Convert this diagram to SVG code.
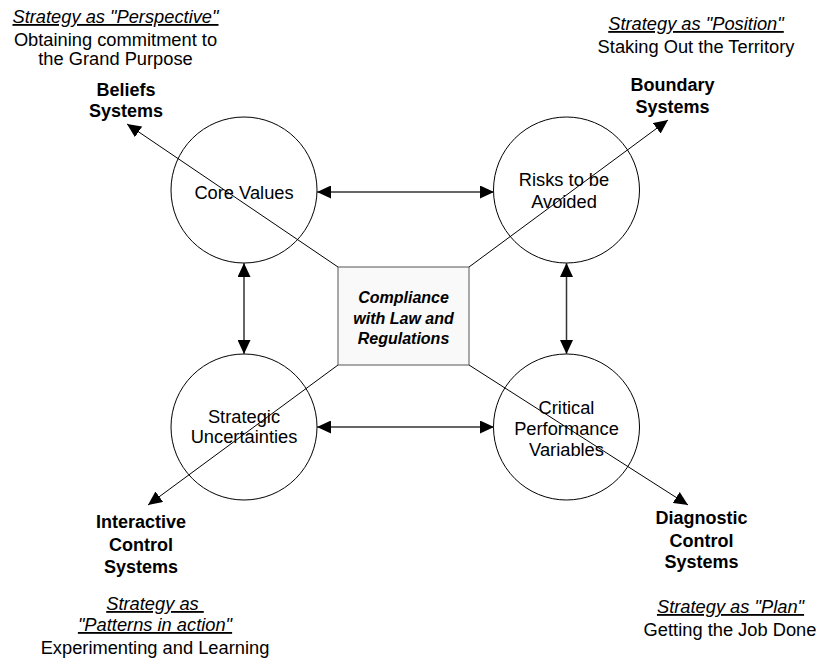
<svg xmlns="http://www.w3.org/2000/svg" width="822" height="659" viewBox="0 0 822 659">
<style>
text{font-family:"Liberation Sans",Arial,sans-serif;font-size:18.3px;fill:#000;text-anchor:middle}
.b{font-weight:bold;font-size:18px}
.i{font-style:italic;text-decoration:underline}
.box{font-weight:bold;font-style:italic;font-size:16px}
.circ{fill:#fff;stroke:#000;stroke-width:1}
.arr{stroke:#333;stroke-width:1.5;fill:none;marker-end:url(#ah);marker-start:url(#ah)}
.diag{stroke:#000;stroke-width:1;fill:none;marker-end:url(#ah)}
</style>
<defs>
<marker id="ah" viewBox="0 0 14 13" refX="14" refY="6.5" markerWidth="14" markerHeight="13" markerUnits="userSpaceOnUse" orient="auto-start-reverse">
<path d="M0,0 L14,6.5 L0,13 z" fill="#000"/>
</marker>
</defs>
<rect width="822" height="659" fill="#fff"/>
<g id="core-values"><circle class="circ" cx="244" cy="190" r="73"/><text x="244" y="199">Core Values</text></g>
<g id="risks"><circle class="circ" cx="566.5" cy="190" r="73"/><text x="564" y="186">Risks to be</text><text x="564" y="208">Avoided</text></g>
<g id="strategic"><circle class="circ" cx="244" cy="427" r="73"/><text x="244" y="423">Strategic</text><text x="244" y="443">Uncertainties</text></g>
<g id="critical"><circle class="circ" cx="566.5" cy="427" r="73"/><text x="566.5" y="414">Critical</text><text x="566.5" y="435">Performance</text><text x="566.5" y="456">Variables</text></g>
<g id="connectors">
<line class="arr" x1="317" y1="192" x2="494" y2="192"/>
<line class="arr" x1="317" y1="427" x2="494" y2="427"/>
<line class="arr" x1="244" y1="263" x2="244" y2="354"/>
<line class="arr" x1="566.5" y1="263" x2="566.5" y2="354"/>
<line class="diag" x1="338" y1="267" x2="127" y2="124"/>
<line class="diag" x1="469" y1="267" x2="668" y2="120"/>
<line class="diag" x1="338" y1="365" x2="148" y2="505"/>
<line class="diag" x1="469" y1="365" x2="688" y2="505"/>
</g>
<g id="compliance"><rect x="338" y="267" width="131" height="98" fill="#f9f9f9" stroke="#555" stroke-width="1"/><text class="box" x="403.5" y="303">Compliance</text><text class="box" x="403.5" y="324">with Law and</text><text class="box" x="403.5" y="344">Regulations</text></g>
<g id="beliefs"><text class="b" x="126" y="96">Beliefs</text><text class="b" x="126" y="117">Systems</text></g>
<g id="boundary"><text class="b" x="672.5" y="91">Boundary</text><text class="b" x="672.5" y="113">Systems</text></g>
<g id="interactive"><text class="b" x="141" y="528">Interactive</text><text class="b" x="141" y="551">Control</text><text class="b" x="141" y="573">Systems</text></g>
<g id="diagnostic"><text class="b" x="701.5" y="524">Diagnostic</text><text class="b" x="701.5" y="547">Control</text><text class="b" x="701.5" y="568">Systems</text></g>
<g id="perspective"><text class="i" x="115.5" y="23">Strategy as "Perspective"</text><text x="115.5" y="46">Obtaining commitment to</text><text x="115.5" y="65">the Grand Purpose</text></g>
<g id="position"><text class="i" x="696" y="30">Strategy as "Position"</text><text x="696" y="53">Staking Out the Territory</text></g>
<g id="patterns"><text class="i" x="155" y="610" xml:space="preserve">Strategy as </text><text class="i" x="155" y="631">"Patterns in action"</text><text x="155" y="654">Experimenting and Learning</text></g>
<g id="plan"><text class="i" x="730.5" y="613">Strategy as "Plan"</text><text x="730" y="636">Getting the Job Done</text></g>
</svg>
